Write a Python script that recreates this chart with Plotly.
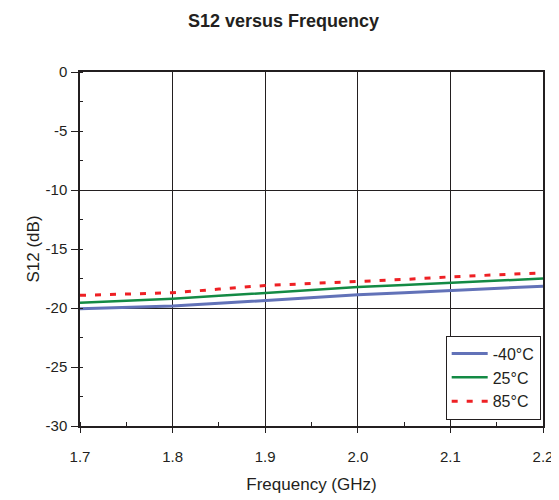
import plotly.graph_objects as go

freq = [1.70, 1.75, 1.80, 1.85, 1.90, 1.95, 2.00, 2.05, 2.10, 2.15, 2.20]
s12_m40 = [-20.06, -19.95, -19.84, -19.60, -19.36, -19.10, -18.88, -18.70, -18.51, -18.33, -18.15]
s12_25 = [-19.55, -19.40, -19.22, -18.97, -18.71, -18.47, -18.23, -18.05, -17.86, -17.68, -17.50]
s12_85 = [-18.93, -18.82, -18.71, -18.40, -18.09, -17.92, -17.78, -17.58, -17.36, -17.20, -17.02]
series_names = ["-40\u00b0C", "25\u00b0C", "85\u00b0C"]
y_ticks = [0, -5, -10, -15, -20, -25, -30]
y_ticklabels = ["0", "-5", "-10", "-15", "-20", "-25", "-30"]

FONT = "Liberation Sans Narrow, Arial Narrow, Liberation Sans, sans-serif"
INK = "#231f20"

fig = go.Figure()
fig.add_trace(go.Scatter(x=freq, y=s12_m40, mode="lines", name=series_names[0],
                         line=dict(color="#6272b8", width=3)))
fig.add_trace(go.Scatter(x=freq, y=s12_25, mode="lines", name=series_names[1],
                         line=dict(color="#138a44", width=2.5)))
fig.add_trace(go.Scatter(x=freq, y=s12_85, mode="lines", name=series_names[2],
                         line=dict(color="#ee2024", width=3, dash="6px,9px")))
# helper trace for y grid every 10 dB
fig.add_trace(go.Scatter(x=[freq[0]], y=[s12_m40[0]], yaxis="y2", mode="markers",
                         marker=dict(opacity=0), showlegend=False, hoverinfo="skip"))

fig.update_layout(
    width=551, height=492,
    margin=dict(l=72, r=16, t=64, b=74, autoexpand=False),
    paper_bgcolor="white", plot_bgcolor="white",
    font=dict(family=FONT, size=15, color=INK),
    title=dict(text="<b>S12 versus Frequency</b>", x=0.5, xanchor="center",
               y=0.975, yanchor="middle", automargin=False,
               font=dict(family=FONT, size=18, color=INK)),
    xaxis=dict(range=[1.7, 2.2], dtick=0.1, tick0=1.7, tickformat=".1f",
               showgrid=True, gridcolor=INK, gridwidth=1, automargin=False,
               showline=True, linecolor=INK, linewidth=1.5, mirror=True,
               ticks="outside", ticklen=5, tickcolor=INK, ticklabelstandoff=11,
               minor=dict(dtick=0.05, ticks="inside", ticklen=4, tickcolor=INK),
               title=dict(text="Frequency (GHz)", standoff=14, font=dict(size=17)),
               zeroline=False),
    yaxis=dict(range=[-30, 0], tickvals=y_ticks, ticktext=y_ticklabels, showgrid=False,
               automargin=False,
               showline=True, linecolor=INK, linewidth=1.5, mirror=True,
               ticks="outside", ticklen=7, tickcolor=INK, ticklabelstandoff=1,
               minor=dict(dtick=2.5, ticks="inside", ticklen=3, tickcolor=INK),
               title=dict(text="S12 (dB)", standoff=2, font=dict(size=17)),
               zeroline=False),
    yaxis2=dict(range=[-30, 0], dtick=10, overlaying="y", showgrid=True,
                gridcolor=INK, gridwidth=1, showticklabels=False,
                ticks="", zeroline=False, showline=False),
    legend=dict(x=0.995, xanchor="right", y=0.018, yanchor="bottom",
                bgcolor="white", bordercolor=INK, borderwidth=1,
                font=dict(size=16), tracegroupgap=0, itemwidth=36),
    showlegend=True,
)

fig.write_html("out.html")
